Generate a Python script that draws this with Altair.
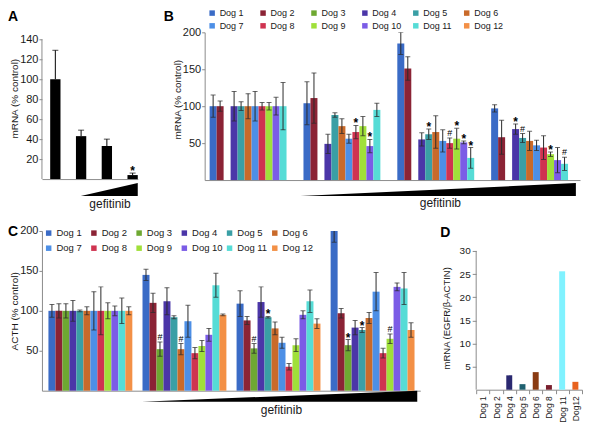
import altair as alt
import pandas as pd

FONT = "Liberation Sans"
INK = "#1a1a1a"
AXIS_GREY = "#8c8c8c"
ERR_INK = "#2b2b2b"

# ---------------- data ----------------
DOGS = ["Dog 1", "Dog 2", "Dog 3", "Dog 4", "Dog 5", "Dog 6",
        "Dog 7", "Dog 8", "Dog 9", "Dog 10", "Dog 11", "Dog 12"]
DOG_COLORS = ["#3a6bc6", "#8b2335", "#6ea832", "#4b36a8", "#3a9fa5", "#c96a2a",
              "#4d8fe6", "#cf3350", "#a0e03a", "#7b5ce6", "#56dcd6", "#f39046"]
DOSES = ["control", "dose 1", "dose 2", "dose 3"]

# Panel A
A_VALUES = [100, 43, 33, 4]
A_ERRORS = [29, 6, 7, 2]
A_SIGNIF = ["", "", "", "*"]

# Panel B (Dog 3 and Dog 12 not measured)
B_VALUES = [
    [100, 100, None, 100, 100, 100, 100, 100, 100, 100, 100, None],
    [104, 111, None, 49, 88, 73, 56, 65, 73, 46, 95, None],
    [185, 151, None, 55, 62, 65, 53, 50, 56, 51, 30, None],
    [97, 58, None, 69, 57, 53, 47, 44, 35, 27, 22, None],
]
B_ERRORS = [
    [15, 7, None, 20, 6, 17, 20, 5, 5, 12, 32, None],
    [29, 34, None, 13, 3, 10, 6, 9, 13, 9, 9, None],
    [15, 16, None, 9, 7, 22, 15, 7, 14, 2, 14, None],
    [5, 23, None, 7, 6, 13, 7, 16, 3, 17, 9, None],
]
B_SIGNIF = [
    [""] * 12,
    ["", "", "", "", "", "", "", "*", "", "*", "", ""],
    ["", "", "", "", "*", "", "", "#", "*", "*", "*", ""],
    ["", "", "", "*", "#", "", "", "", "*", "", "#", ""],
]

# Panel C
C_VALUES = [
    [100] * 12,
    [145, 110, 52, 112, 92, 52, 87, 47, 56, 70, 132, 95],
    [109, 88, 53, 111, 92, 78, 60, 30, 57, 95, 112, 84],
    [200, 97, 57, 79, 76, 91, 124, 47, 65, 130, 128, 76],
]
C_ERRORS = [
    [8, 9, 9, 13, 1, 5, 24, 30, 10, 6, 16, 5],
    [7, 12, 9, 17, 2, 7, 20, 7, 7, 8, 15, 1],
    [16, 5, 6, 19, 1, 8, 7, 4, 8, 5, 14, 6],
    [14, 6, 7, 9, 3, 7, 24, 6, 6, 5, 20, 9],
]
C_SIGNIF = [
    [""] * 12,
    ["", "", "#", "", "", "#", "", "", "", "", "", ""],
    ["", "", "#", "", "*", "", "", "", "", "", "", ""],
    ["", "", "*", "", "*", "", "", "", "#", "", "", ""],
]

# Panel D
D_DOGS = ["Dog 1", "Dog 2", "Dog 4", "Dog 5", "Dog 6", "Dog 8", "Dog 11", "Dog12"]
D_VALUES = [0, 0, 3.1, 1.2, 3.8, 1.0, 25.6, 1.7]
D_COLORS = ["#3a6bc6", "#8b2335", "#2a2870", "#1f6170", "#8a3b12", "#7a1f2e", "#80f2ff", "#e8621e"]


def long_table(values, errors, signif):
    rows = []
    for dose, vals, errs, sig in zip(DOSES, values, errors, signif):
        for dog, v, e, s in zip(DOGS, vals, errs, sig):
            if v is None:
                continue
            rows.append({"dose": dose, "dog": dog, "value": v,
                         "lo": v - e, "hi": v + e, "sig": s})
    return pd.DataFrame(rows)


def letter_layer(letter, lx, ly):
    return alt.Chart(pd.DataFrame({"t": [letter]})).mark_text(
        align="left", baseline="top", fontSize=14, fontWeight="bold", color="black"
    ).encode(text="t:N", x=alt.value(lx), y=alt.value(ly))


def axis_line(yscale, yaxis, top):
    return alt.Chart(pd.DataFrame({"y0": [0], "y1": [top]})).mark_rule(
        color=AXIS_GREY, strokeWidth=1
    ).encode(x=alt.value(0), y=alt.Y("y0:Q", scale=yscale, axis=yaxis), y2="y1:Q")


def wedge_layer(height, start, end, label_pos, y_bottom, y_top, label_y):
    wx = alt.Scale(domain=[0, 1])
    tri = alt.Chart(pd.DataFrame({"dose": [start, end], "top": [0, 1], "bottom": [0, 0]})).mark_area(
        color="black"
    ).encode(
        x=alt.X("dose:Q", scale=wx, axis=None),
        y=alt.Y("top:Q", scale=alt.Scale(domain=[0, 1], range=[height + y_bottom, height + y_top]), axis=None),
        y2="bottom:Q",
    )
    lab = alt.Chart(pd.DataFrame({"label": ["gefitinib"], "pos": [label_pos]})).mark_text(
        fontSize=12, baseline="middle", color=INK
    ).encode(x=alt.X("pos:Q", scale=wx, axis=None), y=alt.value(height + label_y), text="label:N")
    return alt.layer(tri, lab)


X_AXIS_PLAIN = alt.Axis(title=None, labels=False, ticks=False, domainColor=AXIS_GREY)


def grouped_panel(df, width, height, pad_in, pad_out, ytitle, title_y,
                  leg_x, leg_y, leg_font, col_pad, row_pad, letter, letter_xy, wedge):
    x = alt.X("dose:N", scale=alt.Scale(domain=DOSES, paddingInner=pad_in, paddingOuter=pad_out),
              axis=X_AXIS_PLAIN)
    xo = alt.XOffset("dog:N", scale=alt.Scale(domain=DOGS, paddingInner=0, paddingOuter=0))
    yscale = alt.Scale(domain=[0, 200], nice=False)
    axis_kw = dict(values=[50, 100, 150, 200], title=ytitle)
    if title_y is not None:
        axis_kw["titleY"] = title_y
    yaxis = alt.Axis(**axis_kw)

    def y(field):
        return alt.Y(f"{field}:Q", scale=yscale, axis=yaxis)

    base = alt.Chart(df)
    bars = base.mark_bar().encode(
        x=x, xOffset=xo, y=y("value"),
        color=alt.Color("dog:N", scale=alt.Scale(domain=DOGS, range=DOG_COLORS),
                        legend=alt.Legend(orient="none", legendX=leg_x, legendY=leg_y,
                                          direction="horizontal", columns=6, title=None,
                                          symbolType="square", symbolSize=30, symbolStrokeWidth=0,
                                          labelFontSize=leg_font, labelFont=FONT, labelColor=INK,
                                          labelOffset=3, columnPadding=col_pad, rowPadding=row_pad,
                                          gridAlign="all", padding=0)),
    )
    rules = base.mark_rule(clip=True, color=ERR_INK, strokeWidth=1).encode(
        x=x, xOffset=xo, y=y("lo"), y2="hi:Q")
    cap_lo = base.mark_tick(clip=True, color=ERR_INK, size=5, thickness=1).encode(
        x=x, xOffset=xo, y=y("lo"))
    cap_hi = base.mark_tick(clip=True, color=ERR_INK, size=5, thickness=1).encode(
        x=x, xOffset=xo, y=y("hi"))
    stars = base.transform_filter(alt.datum.sig == "*").mark_text(
        fontSize=12, fontWeight="bold", baseline="alphabetic", dy=2, color="black"
    ).encode(x=x, xOffset=xo, y=y("hi"), text="sig:N")
    hashes = base.transform_filter(alt.datum.sig == "#").mark_text(
        fontSize=9, baseline="alphabetic", dy=-2, color="black"
    ).encode(x=x, xOffset=xo, y=y("hi"), text="sig:N")
    main = alt.layer(bars, rules, cap_lo, cap_hi, stars, hashes,
                     letter_layer(letter, *letter_xy))
    return alt.layer(main, wedge_layer(height, *wedge)).resolve_scale(
        x="independent", y="independent").properties(width=width, height=height)


# ---------------- panel A ----------------
a_df = pd.DataFrame({"dose": DOSES, "value": A_VALUES,
                     "lo": [v - e for v, e in zip(A_VALUES, A_ERRORS)],
                     "hi": [v + e for v, e in zip(A_VALUES, A_ERRORS)],
                     "sig": A_SIGNIF})
A_W, A_H = 96, 147
ax = alt.X("dose:N", scale=alt.Scale(domain=DOSES, paddingInner=0.6, paddingOuter=0.16, align=1),
           axis=X_AXIS_PLAIN)
a_yscale = alt.Scale(domain=[0, 147], nice=False)
a_yaxis = alt.Axis(values=[20, 40, 60, 80, 100, 120, 140], title="mRNA (% control)",
                   titleY=66, domain=False)


def ay(field):
    return alt.Y(f"{field}:Q", scale=a_yscale, axis=a_yaxis)


a_base = alt.Chart(a_df)
a_main = alt.layer(
    axis_line(a_yscale, a_yaxis, 140),
    a_base.mark_bar(color="black").encode(x=ax, y=ay("value")),
    a_base.mark_rule(color="black").encode(x=ax, y=ay("value"), y2="hi:Q"),
    a_base.mark_tick(color="black", size=6, thickness=1).encode(x=ax, y=ay("hi")),
    a_base.transform_filter(alt.datum.sig == "*").mark_text(
        fontSize=12, fontWeight="bold", baseline="alphabetic", dy=2, color="black"
    ).encode(x=ax, y=ay("hi"), text="sig:N"),
    letter_layer("A", -34, -22),
)
panel_a = alt.layer(a_main, wedge_layer(A_H, 0.406, 1.0, 0.71, 17, 4, 25)).resolve_scale(
    x="independent", y="independent").properties(width=A_W, height=A_H)

# ---------------- panel B ----------------
panel_b = grouped_panel(long_table(B_VALUES, B_ERRORS, B_SIGNIF), 376, 148, 0.106, 0.053,
                        "mRNA (% control)", 67, 3, -24, 9, 9, 3, "B", (-41, -22),
                        (0.255, 0.989, 0.628, 16, 3, 23))

# ---------------- panel C ----------------
panel_c = grouped_panel(long_table(C_VALUES, C_ERRORS, C_SIGNIF), 379, 160, 0.116, 0.069,
                        "ACTH (% control)", None, 2, -3, 9.5, 1.3, 4.5, "C", (-34, -6),
                        (0.264, 0.992, 0.633, 11, 0, 19))

# ---------------- panel D ----------------
D_H = 159
d_yscale = alt.Scale(domain=[0, 34.32], nice=False)
d_yaxis = alt.Axis(values=[5, 10, 15, 20, 25, 30], title="mRNA (EGFR/β-ACTIN)",
                   titleFontSize=9.5, labelFontSize=10, titlePadding=8, titleY=87, domain=False,
                   tickSize=4, labelPadding=2)
d_df = pd.DataFrame({"dog": D_DOGS, "value": D_VALUES})
d_bars = alt.Chart(d_df).mark_bar(width=alt.RelativeBandSize(0.45)).encode(
    x=alt.X("dog:N", sort=D_DOGS, scale=alt.Scale(domain=D_DOGS, paddingInner=0, paddingOuter=0),
            axis=alt.Axis(title=None, labelAngle=-90, labelFontSize=8.5, ticks=True, tickBand="extent",
                          tickSize=4, labelPadding=2, domainColor=AXIS_GREY)),
    y=alt.Y("value:Q", scale=d_yscale, axis=d_yaxis),
    color=alt.Color("dog:N", scale=alt.Scale(domain=D_DOGS, range=D_COLORS), legend=None),
)
panel_d = alt.layer(axis_line(d_yscale, d_yaxis, 30), d_bars,
                    letter_layer("D", -36, -5)).properties(width=106, height=D_H)

top = alt.hconcat(panel_a, panel_b, spacing=26).resolve_scale(color="independent")
bottom = alt.hconcat(panel_c, panel_d, spacing=20).resolve_scale(color="independent")
chart = alt.vconcat(top, bottom, spacing=15, padding=0).resolve_scale(
    color="independent"
).configure_view(stroke=None).configure_axis(
    grid=False, domainColor=AXIS_GREY, tickColor=AXIS_GREY, labelColor=INK, titleColor=INK,
    labelFont=FONT, titleFont=FONT, labelFontSize=11, titleFontSize=10, titleFontWeight="normal",
    tickSize=3, labelPadding=1, titlePadding=0,
).configure_text(font=FONT)

chart.save("out.html", embed_options={"renderer": "svg", "actions": False})
